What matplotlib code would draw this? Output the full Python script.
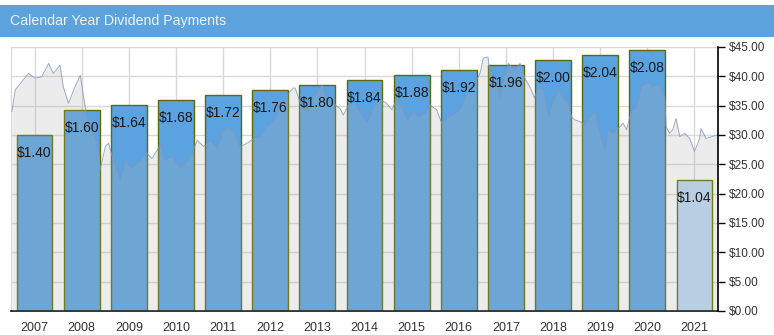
import matplotlib.pyplot as plt
from matplotlib.patches import Rectangle
import numpy as np

plt.rcParams['font.family'] = ['Liberation Sans', 'DejaVu Sans']

years = [2007, 2008, 2009, 2010, 2011, 2012, 2013, 2014, 2015, 2016, 2017, 2018, 2019, 2020, 2021]
dividends = [1.40, 1.60, 1.64, 1.68, 1.72, 1.76, 1.80, 1.84, 1.88, 1.92, 1.96, 2.00, 2.04, 2.08, 1.04]

# share price, decimal year / close
price_t = [2007.02, 2007.09, 2007.23, 2007.37, 2007.51, 2007.65, 2007.80, 2007.90, 2008.04, 2008.11,
           2008.22, 2008.33, 2008.47, 2008.54, 2008.61, 2008.75, 2008.86, 2008.89, 2009.00, 2009.07,
           2009.17, 2009.32, 2009.42, 2009.56, 2009.74, 2009.88, 2009.99, 2010.10, 2010.17, 2010.24,
           2010.42, 2010.59, 2010.74, 2010.84, 2010.95, 2011.09, 2011.23, 2011.37, 2011.48, 2011.58,
           2011.72, 2011.86, 2012.01, 2012.15, 2012.29, 2012.43, 2012.57, 2012.68, 2012.78, 2012.89,
           2012.99, 2013.03, 2013.14, 2013.28, 2013.42, 2013.60, 2013.70, 2013.84, 2013.98, 2014.05,
           2014.16, 2014.30, 2014.44, 2014.55, 2014.69, 2014.83, 2014.97, 2015.08, 2015.18, 2015.29,
           2015.40, 2015.54, 2015.64, 2015.78, 2015.89, 2016.03, 2016.14, 2016.28, 2016.42, 2016.56,
           2016.67, 2016.81, 2016.95, 2017.02, 2017.12, 2017.16, 2017.30, 2017.37, 2017.48, 2017.55,
           2017.69, 2017.80, 2017.90, 2018.01, 2018.11, 2018.18, 2018.29, 2018.40, 2018.50, 2018.61,
           2018.71, 2018.82, 2018.89, 2018.96, 2019.07, 2019.17, 2019.28, 2019.39, 2019.49, 2019.60,
           2019.67, 2019.77, 2019.88, 2019.99, 2020.06, 2020.16, 2020.27, 2020.37, 2020.51, 2020.62,
           2020.73, 2020.80, 2020.87, 2020.90, 2020.97, 2021.04, 2021.11, 2021.19, 2021.29, 2021.40,
           2021.50, 2021.61, 2021.64, 2021.75, 2021.86, 2021.98]
price = [34.0, 37.7, 39.1, 40.5, 39.7, 39.9, 42.2, 40.5, 41.9, 38.2,
         35.4, 37.7, 40.2, 36.5, 33.1, 30.3, 27.4, 24.0, 28.0, 28.6,
         25.7, 22.3, 25.7, 24.3, 25.7, 26.9, 26.0, 27.4, 28.3, 25.7,
         26.3, 24.3, 25.7, 26.9, 29.1, 28.0, 29.1, 27.7, 30.3, 31.4,
         30.6, 28.0, 28.6, 29.4, 29.7, 31.4, 32.6, 34.3, 35.4, 37.1,
         38.0, 38.0, 35.4, 34.0, 36.5, 38.5, 36.0, 35.4, 34.5, 33.4,
         35.1, 35.4, 33.4, 32.0, 34.8, 36.0, 35.4, 34.3, 36.0, 34.8,
         32.6, 34.0, 33.1, 33.7, 35.1, 34.3, 32.0, 33.1, 33.7, 34.8,
         37.1, 38.2, 40.5, 43.1, 43.3, 40.8, 39.4, 36.3, 40.5, 42.2,
         41.1, 42.2, 39.7, 38.2, 36.3, 38.2, 37.7, 33.1, 36.0, 37.7,
         36.3, 35.4, 33.1, 32.6, 32.3, 31.7, 33.1, 34.0, 30.3, 27.4,
         30.9, 30.3, 31.1, 32.0, 30.9, 34.0, 34.8, 38.2, 39.1, 38.2,
         38.8, 37.7, 36.5, 31.4, 30.3, 30.9, 32.8, 29.7, 30.3, 29.4,
         27.2, 29.4, 31.1, 29.4, 29.7, 30.0]

fig = plt.figure(figsize=(7.74, 3.35), dpi=100)

# header strip
fig.patches.append(Rectangle((0, 1 - 37 / 335), 1, 32 / 335, transform=fig.transFigure,
                             facecolor='#5ca2dd', edgecolor='none', zorder=0))
fig.text(10 / 774, 1 - 21 / 335, 'Calendar Year Dividend Payments', color='#eef3f9',
         fontsize=10.2, va='center', ha='left')

ax = fig.add_axes([11 / 774, 1 - 311 / 335, 707 / 774, 264 / 335])
ax2 = ax.twinx()

centers = [y + 0.5 for y in years]
colors = ['#5aa2e0'] * (len(years) - 1) + ['#bcd9f4']
ax.bar(centers, dividends, width=0.76, color=colors, edgecolor='#5f6a00', linewidth=1.0, zorder=2)

div_max = 2.1
ax.set_xlim(2007, 2022)
ax.set_ylim(0, div_max)
ax.set_yticks(np.linspace(0, div_max, 10))
ax.set_xticks(centers)
ax.set_xticklabels([str(y) for y in years], fontsize=9, color='#333333')
ax.tick_params(axis='x', length=0, pad=8)
ax.tick_params(axis='y', left=False, labelleft=False)
ax.grid(True, color='#d9d9d9', linewidth=1, zorder=0)
ax.set_axisbelow(True)
for s in ['top', 'right']:
    ax.spines[s].set_visible(False)
ax.spines['left'].set_color('#d9d9d9')
ax.spines['bottom'].set_color('black')
ax.spines['bottom'].set_linewidth(1.2)

# price history over the bars
ax2.fill_between(price_t, price, 0, color=(175 / 255, 175 / 255, 175 / 255), alpha=0.236,
                 linewidth=0)
ax2.plot(price_t, price, color='#8497b8', linewidth=0.7, alpha=0.8)
ax2.set_ylim(0, 45)
ax2.set_yticks(np.arange(0, 46, 5))
ax2.set_yticklabels([f'${v:.2f}' for v in np.arange(0, 46, 5)], fontsize=8.5, color='#333333')
ax2.tick_params(axis='y', length=5, width=1, color='black', pad=3)
for s in ['top', 'left', 'bottom']:
    ax2.spines[s].set_visible(False)
ax2.spines['right'].set_color('black')
ax2.spines['right'].set_linewidth(1.2)

for x, v in zip(centers, dividends):
    ax2.annotate(f'${v:.2f}', xy=(x, v), xycoords=ax.transData, xytext=(0, -18),
                 textcoords='offset pixels', ha='center', va='center', fontsize=10,
                 color='#1a1a1a')

fig.savefig('out.png', dpi=100)
